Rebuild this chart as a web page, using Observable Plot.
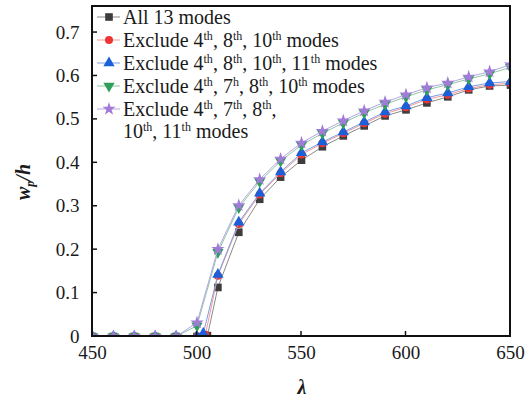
<!DOCTYPE html>
<html>
<head>
<meta charset="utf-8">
<script src="https://cdn.jsdelivr.net/npm/d3@7"></script>
<script src="https://cdn.jsdelivr.net/npm/@observablehq/plot@0.6"></script>
<style>
  html, body { margin: 0; padding: 0; background: white; }
  #chart { width: 532px; height: 401px; }
</style>
</head>
<body>
<div id="chart"></div>
<script>
// ---- data ----
const lambda = [450, 460, 470, 480, 490, 500, 510, 520, 530, 540, 550, 560, 570, 580, 590, 600, 610, 620, 630, 640, 650];
const allModes   = [0, 0, 0, 0, 0, 0,     0.113, 0.240, 0.316, 0.367, 0.406, 0.437, 0.462, 0.485, 0.508, 0.522, 0.538, 0.552, 0.568, 0.577, 0.579];
const excl4810   = [0, 0, 0, 0, 0, 0,     0.140, 0.259, 0.327, 0.376, 0.419, 0.445, 0.468, 0.491, 0.513, 0.528, 0.546, 0.557, 0.571, 0.580, 0.583];
const excl481011 = [0, 0, 0, 0, 0, 0,     0.143, 0.263, 0.330, 0.379, 0.423, 0.448, 0.471, 0.494, 0.517, 0.531, 0.550, 0.561, 0.575, 0.584, 0.587];
const excl47810  = [0, 0, 0, 0, 0, 0.025, 0.194, 0.297, 0.357, 0.404, 0.441, 0.468, 0.492, 0.515, 0.535, 0.552, 0.568, 0.580, 0.593, 0.605, 0.620];
const excl4781011= [0, 0, 0, 0, 0, 0.032, 0.201, 0.302, 0.362, 0.409, 0.446, 0.473, 0.497, 0.520, 0.540, 0.557, 0.573, 0.584, 0.598, 0.610, 0.626];
// onset points just after 500 for the first three series
const onsetLambda = [505, 504, 503];
const onsetValue  = [0.002, 0.004, 0.007];

const xTicks = [450, 500, 550, 600, 650];
const yTicks = [0, 0.1, 0.2, 0.3, 0.4, 0.5, 0.6, 0.7];

const seriesValues = [allModes, excl4810, excl481011, excl47810, excl4781011];
const legendLabels = [
  [["All 13 modes"]],
  [["Exclude 4"], ["th", 1], [", 8"], ["th", 1], [", 10"], ["th", 1], [" modes"]],
  [["Exclude 4"], ["th", 1], [", 8"], ["th", 1], [", 10"], ["th", 1], [", 11"], ["th", 1], [" modes"]],
  [["Exclude 4"], ["th", 1], [", 7"], ["h", 1], [", 8"], ["th", 1], [", 10"], ["th", 1], [" modes"]],
  [["Exclude 4"], ["th", 1], [", 7"], ["th", 1], [", 8"], ["th", 1], [","]],
];
const legendLine2 = [["10"], ["th", 1], [", 11"], ["th", 1], [" modes"]];

// ---- styles ----
const sqrt3 = Math.sqrt(3);
const triangleDown = {
  draw(context, size) {
    const y = -Math.sqrt(size / (sqrt3 * 3));
    context.moveTo(0, -y * 2);
    context.lineTo(-sqrt3 * y, y);
    context.lineTo(sqrt3 * y, y);
    context.closePath();
  }
};
const markFill  = ["#3d3d3d", "#ef3434", "#1b5fd9", "#2f9f5c", "#a27bd9"];
const lineColor = ["#8a8a8a", "#f29a9a", "#7c9de6", "#8fc7a2", "#b3a6e6"];
const symbols   = [d3.symbolSquare, d3.symbolCircle, d3.symbolTriangle, triangleDown, d3.symbolStar];
const radii     = [4.3, 4.0, 4.2, 4.2, 4.2];

const font = "'Liberation Serif', 'Times New Roman', serif";

// build rows
const seriesRows = seriesValues.map((vals, i) => {
  const rows = lambda.map((l, j) => ({lambda: l, w: vals[j]}));
  if (i < onsetLambda.length) rows.push({lambda: onsetLambda[i], w: onsetValue[i]});
  rows.sort((a, b) => a.lambda - b.lambda);
  return rows;
});

const marks = [];
seriesRows.forEach((rows, i) => {
  marks.push(Plot.line(rows, {x: "lambda", y: "w", stroke: lineColor[i], strokeWidth: 1, clip: true}));
  marks.push(Plot.dot(rows, {x: "lambda", y: "w", symbol: symbols[i], fill: markFill[i], r: radii[i], stroke: "none", clip: true}));
});

const W = 532, H = 401, mL = 92, mR = 22, mT = 6, mB = 65;

const chart = Plot.plot({
  width: W, height: H,
  marginLeft: mL, marginRight: mR, marginTop: mT, marginBottom: mB,
  style: {fontFamily: font, fontSize: "19px", color: "#1a1a1a", background: "white"},
  x: {domain: [450, 650], label: null},
  y: {domain: [0, 0.76], label: null},
  marks: [
    ...marks,
    Plot.axisX(xTicks, {tickSize: 0, tickPadding: 9, fontSize: 19, label: null}),
    Plot.axisY(yTicks, {tickSize: 0, tickPadding: 13, fontSize: 19, label: null, tickFormat: d => d === 0 ? "0" : d.toFixed(1)})
  ]
});
document.getElementById("chart").appendChild(chart);

// ---- frame & inward ticks via the plot's scales ----
const sx = chart.scale("x"), sy = chart.scale("y");
const svg = d3.select(chart);
const x0 = sx.apply(450), x1 = sx.apply(650), y0 = sy.apply(0), y1 = sy.apply(0.76);
const fr = svg.append("g").attr("stroke", "#111").attr("fill", "none");
xTicks.slice(1, -1).forEach(v => {
  const x = sx.apply(v);
  fr.append("line").attr("x1", x).attr("x2", x).attr("y1", y0).attr("y2", y0 - 5).attr("stroke-width", 1.5);
});
yTicks.slice(1).forEach(v => {
  const y = sy.apply(v);
  fr.append("line").attr("x1", x0).attr("x2", x0 + 5).attr("y1", y).attr("y2", y).attr("stroke-width", 1.5);
});
fr.append("rect").attr("x", x0).attr("y", y1).attr("width", x1 - x0).attr("height", y0 - y1).attr("stroke-width", 2);

// ---- legend & axis labels ----
const g = svg.append("g").attr("font-family", font).attr("font-size", 20).attr("fill", "#1a1a1a").attr("text-anchor", "start");
const rowY = [17, 40, 63, 86, 109];
const lx0 = 97, lx1 = 120, lmx = 109, tx = 123;

function addText(sel, parts) {
  let raised = false;
  parts.forEach(([s, sup]) => {
    const t = sel.append("tspan").text(s);
    if (sup && !raised) { t.attr("font-size", 12).attr("dy", -7); raised = true; }
    else if (!sup && raised) { t.attr("dy", 7); raised = false; }
  });
}

legendLabels.forEach((parts, i) => {
  const y = rowY[i];
  g.append("line").attr("x1", lx0).attr("x2", lx1).attr("y1", y).attr("y2", y)
    .attr("stroke", lineColor[i]).attr("stroke-width", 1);
  g.append("path").attr("transform", `translate(${lmx},${y})`)
    .attr("d", d3.symbol(symbols[i], Math.PI * radii[i] * radii[i])())
    .attr("fill", markFill[i]);
  const t = g.append("text").attr("x", tx).attr("y", y).attr("dy", "0.35em");
  addText(t, parts);
});
const t2 = g.append("text").attr("x", tx).attr("y", 131).attr("dy", "0.35em");
addText(t2, legendLine2);

// y label  w_p / h
const yl = svg.append("text").attr("font-family", font).attr("font-size", 20)
  .attr("font-style", "italic").attr("font-weight", "bold").attr("fill", "#1a1a1a")
  .attr("text-anchor", "middle")
  .attr("transform", "translate(30,182) rotate(-90)");
yl.append("tspan").text("w");
yl.append("tspan").text("p").attr("font-size", 12).attr("dy", 4);
yl.append("tspan").text("/h").attr("dy", -4);

// x label λ
svg.append("text").attr("font-family", font).attr("font-size", 20)
  .attr("font-style", "italic").attr("font-weight", "bold").attr("fill", "#1a1a1a")
  .attr("text-anchor", "middle").attr("x", 302).attr("y", 394).text("λ");
</script>
</body>
</html>
